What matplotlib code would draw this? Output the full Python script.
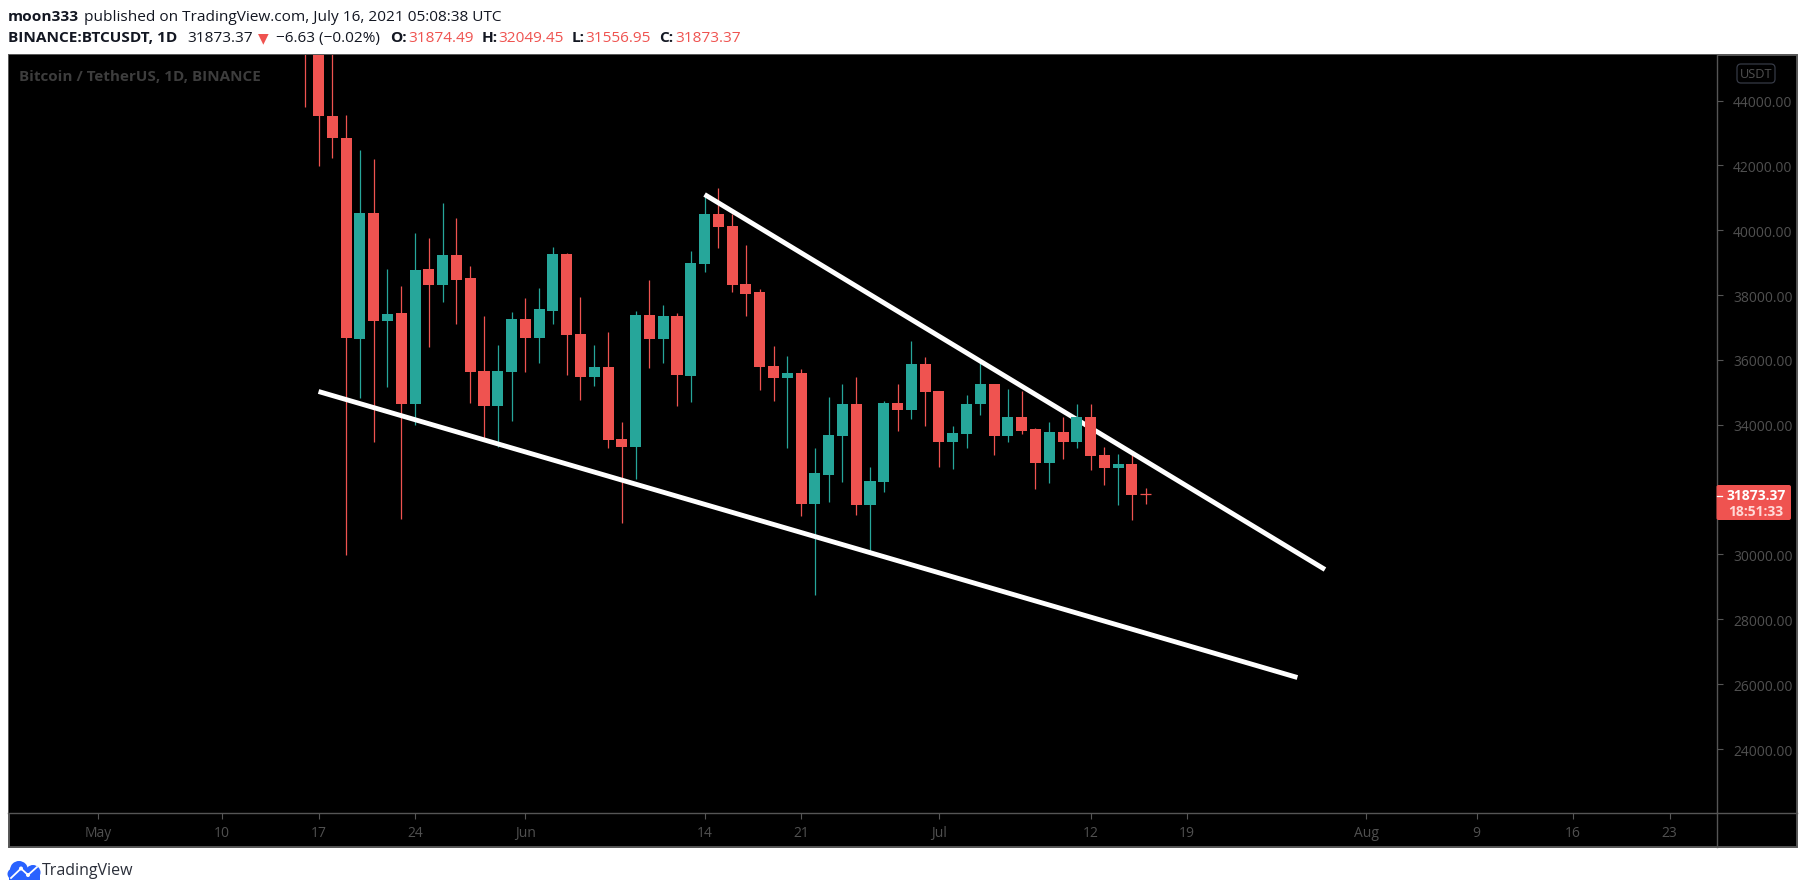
import pandas as pd
import matplotlib
matplotlib.use('Agg')
import matplotlib.pyplot as plt
import matplotlib.dates as mdates
from matplotlib.patches import Rectangle, FancyBboxPatch, Circle, Polygon

# Daily candles, May 16 to Jul 16 2021
fechas = pd.date_range('2021-05-16', '2021-07-16')
opens = [48000, 46600, 43534, 42844, 36631, 40518, 37215, 37459, 34634, 38819, 38298, 39222,
         38511, 35643, 34571, 35622, 37247, 36673, 37523, 39254, 36811, 35484, 35792, 33551,
         33328, 37374, 36631, 37343, 35519, 38973, 40515, 40145, 38356, 38079, 35797, 35457,
         35581, 31571, 32466, 33638, 34655, 31540, 32250, 34686, 34440, 35889, 35026, 33453,
         33730, 34625, 35272, 33638, 34224, 33854, 32836, 33792, 33453, 34254, 33082, 32681,
         32805, 31874.49]
highs = [49000, 46900, 45800, 43566, 42461, 42185, 38819, 38267, 39902, 39775, 40826, 40390,
         38882, 37343, 36472, 37491, 37895, 38203, 39467, 39297, 37927, 36472, 36875, 34072,
         37523, 38479, 37683, 37459, 39374, 41091, 41317, 40515, 39559, 38202, 36444, 36136,
         35735, 33298, 34871, 35272, 35488, 32712, 34748, 35272, 36598, 36105, 35056, 33977,
         34933, 35961, 35272, 35118, 35056, 33915, 34100, 34254, 34655, 34655, 33329, 33113,
         33175, 32049.45]
lows = [43800, 41973, 42217, 29983, 34826, 33466, 35165, 31087, 34001, 36397, 37778, 37098,
        34666, 33583, 33328, 34114, 35622, 35898, 37120, 35526, 34762, 35187, 33275, 30971,
        32341, 35739, 35898, 34571, 34717, 38706, 39466, 38079, 37339, 35087, 34748, 33298,
        31201, 28765, 31633, 32250, 31232, 30091, 31941, 33823, 34193, 33977, 32682, 32651,
        33268, 34316, 33082, 33483, 33730, 32034, 32219, 32959, 33268, 32620, 32157, 31510,
        31078, 31556.95]
closes = [46600, 43513, 42844, 36673, 40518, 37215, 37428, 34634, 38787, 38298, 39222, 38479,
          35622, 34571, 35643, 37247, 36673, 37555, 39254, 36780, 35473, 35792, 33519, 33328,
          37374, 36631, 37343, 35526, 39004, 40515, 40114, 38325, 38048, 35766, 35457, 35581,
          31571, 32497, 33669, 34655, 31540, 32281, 34686, 34440, 35889, 34995, 33453, 33761,
          34655, 35272, 33638, 34224, 33823, 32836, 33792, 33453, 34254, 33051, 32681, 32805,
          31849, 31873.37]

# Trend lines drawn by the author (date, price)
linea_sup_fechas = ['2021-06-14', '2021-07-29']
linea_sup_precios = [41101, 29536]
linea_inf_fechas = ['2021-05-17', '2021-07-27']
linea_inf_precios = [35026, 26205]

# Axis ticks (32000 sits under the last price badge)
precios_ticks = [24000, 26000, 28000, 30000, 34000, 36000, 38000, 40000, 42000, 44000]
fechas_ticks = ['2021-05-01', '2021-05-10', '2021-05-17', '2021-05-24', '2021-06-01',
                '2021-06-14', '2021-06-21', '2021-07-01', '2021-07-12', '2021-07-19',
                '2021-08-01', '2021-08-09', '2021-08-16', '2021-08-23']
etiquetas_ticks = ['May', '10', '17', '24', 'Jun', '14', '21', 'Jul', '12', '19',
                   'Aug', '9', '16', '23']

ROJO = '#ef5350'
VERDE = '#26a69a'
GRIS_EJE = '#555555'
GRIS_TEXTO = '#505050'
OSCURO = '#131722'
W, H = 1805, 895

plt.rcParams['font.family'] = ['Open Sans', 'DejaVu Sans']

fig = plt.figure(figsize=(W / 100, H / 100), dpi=100)
fig.patch.set_facecolor('white')

# Panel with the outer frame, behind the chart
fondo = fig.add_axes([0, 0, 1, 1], zorder=0)
fondo.set_xlim(0, W)
fondo.set_ylim(H, 0)
fondo.axis('off')
fondo.add_patch(Rectangle((8.5, 55.5), 1788, 792.5, facecolor='black', edgecolor=GRIS_EJE, linewidth=1.4))

# Main chart
izq, der, arr, aba = 8.5, 1716.5, 55.5, 813.5
ax = fig.add_axes([izq / W, 1 - aba / H, (der - izq) / W, (aba - arr) / H], zorder=1)
ax.set_facecolor('black')

x = mdates.date2num(fechas)
colores = [ROJO if c < o else VERDE for o, c in zip(opens, closes)]
ax.vlines(x, lows, highs, colors=colores, linewidth=0.9, zorder=2)
bases = [min(o, c) for o, c in zip(opens, closes)]
alturas = [abs(o - c) for o, c in zip(opens, closes)]
ax.bar(x, alturas, bottom=bases, width=0.8, color=colores, linewidth=0, zorder=3)
for xi, o, c, col in zip(x, opens, closes, colores):
    if abs(o - c) < 50:
        ax.hlines(c, xi - 0.4, xi + 0.4, colors=col, linewidth=0.9, zorder=3)

ax.plot(pd.to_datetime(linea_inf_fechas), linea_inf_precios, color='white', linewidth=3.5,
        solid_capstyle='butt', zorder=2.5)
ax.plot(pd.to_datetime(linea_sup_fechas), linea_sup_precios, color='white', linewidth=3.5,
        solid_capstyle='butt', zorder=2.5)

ax.set_xlim(mdates.date2num(pd.Timestamp('2021-05-01')) - 6.49,
            mdates.date2num(pd.Timestamp('2021-05-01')) + 117.4)
ax.set_ylim(22042, 45419)

ax.yaxis.tick_right()
ax.set_yticks(precios_ticks)
ax.set_yticklabels([f'{p:.2f}' for p in precios_ticks])
ax.set_xticks(mdates.date2num(pd.to_datetime(fechas_ticks)))
ax.set_xticklabels(etiquetas_ticks)
ax.tick_params(axis='y', colors=GRIS_EJE, labelcolor=GRIS_TEXTO, length=4, width=0.8, labelsize=10, pad=8)
ax.tick_params(axis='x', colors=GRIS_EJE, labelcolor=GRIS_TEXTO, length=4, width=0.8, labelsize=10, pad=5)
for lado in ['top', 'left']:
    ax.spines[lado].set_visible(False)
for lado in ['right', 'bottom']:
    ax.spines[lado].set_color(GRIS_EJE)
    ax.spines[lado].set_linewidth(1.0)

# Overlay for header, badges and logo, all in image pixels
capa = fig.add_axes([0, 0, 1, 1], zorder=2)
capa.patch.set_alpha(0)
capa.set_xlim(0, W)
capa.set_ylim(H, 0)
capa.axis('off')

capa.plot([1716.5, 1716.5], [813.5, 848], color=GRIS_EJE, linewidth=1.0)
capa.plot([1716.5, 1796.5], [813.5, 813.5], color=GRIS_EJE, linewidth=1.0)

def texto(px, py, s, color=OSCURO, peso='normal', size=11.1):
    capa.text(px, py, s, color=color, fontweight=peso, fontsize=size, ha='left', va='center')

texto(8, 17, 'moon333', peso='bold')
texto(84, 17, 'published on TradingView.com, July 16, 2021 05:08:38 UTC')

texto(8, 38, 'BINANCE:BTCUSDT, 1D', peso='bold')
texto(187, 38, '31873.37')
capa.text(263.5, 38, '▼', color=ROJO, fontsize=10, ha='center', va='center', family='DejaVu Sans')
texto(276, 38, '−6.63 (−0.02%)')
for px, s in [(390, 'O:'), (482, 'H:'), (572, 'L:'), (659, 'C:')]:
    texto(px, 38, s, peso='bold')
for px, s in [(408, '31874.49'), (498, '32049.45'), (585, '31556.95'), (675, '31873.37')]:
    texto(px, 38, s, color=ROJO)

texto(19, 77, 'Bitcoin / TetherUS, 1D, BINANCE', color='#3d3d3d', peso='bold', size=11)

# USDT badge
capa.add_patch(FancyBboxPatch((1737, 65), 38, 19, boxstyle='round,pad=0,rounding_size=4',
                              facecolor='black', edgecolor='#363a45', linewidth=0.9))
capa.text(1756, 74.5, 'USDT', color=GRIS_TEXTO, fontsize=9.2, ha='center', va='center')

# Last price badge
capa.add_patch(FancyBboxPatch((1716.5, 486), 74.5, 35, boxstyle='round,pad=0,rounding_size=2',
                              facecolor=ROJO, edgecolor='none'))
capa.plot([1717, 1722], [496.5, 496.5], color='white', linewidth=0.9)
capa.text(1756, 496.5, '31873.37', color='white', fontweight='bold', fontsize=10, ha='center', va='center')
capa.text(1756, 512, '18:51:33', color='#ffd9d7', fontweight='bold', fontsize=10, ha='center', va='center')

# Logo
azul = '#2962ff'
capa.add_patch(Circle((19, 871), 9, facecolor=azul, edgecolor='none'))
capa.add_patch(Circle((33, 873.5), 7.5, facecolor=azul, edgecolor='none'))
capa.add_patch(Circle((13, 875), 5.5, facecolor=azul, edgecolor='none'))
capa.add_patch(Polygon([(8.5, 875), (40, 875), (40, 881), (8.5, 881)], facecolor=azul, edgecolor='none'))
capa.plot([11, 21, 28, 37], [879, 869.5, 876, 868], color='white', linewidth=1.3)
capa.add_patch(Circle((21, 869.5), 2, facecolor='white', edgecolor='none'))
capa.add_patch(Circle((28, 876), 2, facecolor='white', edgecolor='none'))
capa.text(42, 871, 'TradingView', color='#2a2e39', fontsize=11.5, ha='left', va='center')

plt.savefig('out.png', dpi=100, facecolor='white')
plt.close()
